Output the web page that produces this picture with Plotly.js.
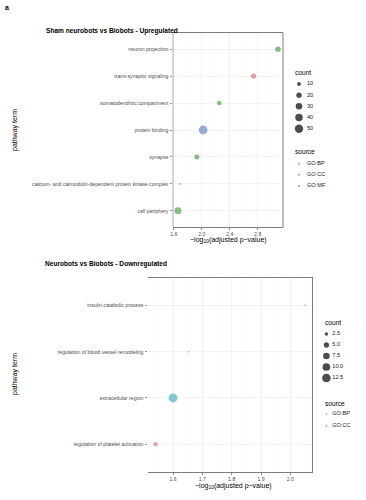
<!DOCTYPE html>
<html>
<head>
<meta charset="utf-8">
<script src="https://cdn.plot.ly/plotly-3.0.1.min.js"></script>
<style>html,body{margin:0;padding:0;background:#fff;}#chart{width:366px;height:500px;}</style>
</head>
<body>
<div id="chart"></div>
<script>
// ---------- data (bottom category first, as ggplot orders them) ----------
const upTerms = ["cell periphery",
  "calcium- and calmodulin-dependent protein kinase complex",
  "synapse", "protein binding", "somatodendritic compartment",
  "trans-synaptic signaling", "neuron projection"];
const upScore  = [1.66, 1.69, 1.93, 2.02, 2.25, 2.74, 3.09];
const upCount  = [35, 2, 18, 55, 16, 20, 22];
const upSource = ["GO:CC", "GO:CC", "GO:CC", "GO:MF", "GO:CC", "GO:BP", "GO:CC"];

const downTerms = ["regulation of platelet activation", "extracellular region",
  "regulation of blood vessel remodeling", "insulin catabolic process"];
const downScore  = [1.54, 1.60, 1.653, 2.05];
const downCount  = [4, 13, 1, 1];
const downSource = ["GO:BP", "GO:CC", "GO:BP", "GO:BP"];

const upSizeBreaks   = [10, 20, 30, 40, 50];
const downSizeBreaks = [2.5, 5.0, 7.5, 10.0, 12.5];
const upSources   = ["GO:BP", "GO:CC", "GO:MF"];
const downSources = ["GO:BP", "GO:CC"];

// ---------- styling ----------
const W = 366, H = 500;
const FONT = "Liberation Sans, Arial, sans-serif";
const upColors   = {"GO:BP": "#D9737A", "GO:CC": "#55A055", "GO:MF": "#6E8BC2"};
const downColors = {"GO:BP": "#D98A8F", "GO:CC": "#4FB3BA"};
const px = v => v / W, py = v => 1 - v / H;

function sizeFn(lo, hi) {            // ggplot-like area scale
  const d0 = 1.8, d1 = 8.8;
  return c => Math.sqrt(d0 * d0 + Math.max(0, (c - lo) / (hi - lo)) * (d1 * d1 - d0 * d0));
}
const upSize = sizeFn(Math.min(...upCount), Math.max(...upCount));
const downSize = sizeFn(Math.min(...downCount), Math.max(...downCount));
function expand(v) { const lo = Math.min(...v), hi = Math.max(...v), e = (hi - lo) * 0.05; return [lo - e, hi + e]; }

const traces = [];
function panelTraces(terms, score, count, source, colors, sf, xa, ya) {
  Object.keys(colors).forEach(s => {
    const idx = source.map((v, i) => v === s ? i : -1).filter(i => i >= 0);
    if (!idx.length) return;
    traces.push({
      type: "scatter", mode: "markers", xaxis: xa, yaxis: ya, showlegend: false,
      x: idx.map(i => score[i]), y: idx.map(i => terms[i]),
      marker: {color: colors[s], size: idx.map(i => sf(count[i])), line: {width: 0}},
      hoverinfo: "x+y"
    });
  });
}
panelTraces(upTerms, upScore, upCount, upSource, upColors, upSize, "x", "y");
panelTraces(downTerms, downScore, downCount, downSource, downColors, downSize, "x2", "y2");

// legend keys drawn on hidden helper axes
const KEY_X = 6, LAB_X = 14;
function legendTraces(breaks, labels, sizes, colors, xa, ya) {
  traces.push({type: "scatter", mode: "markers", xaxis: xa, yaxis: ya, showlegend: false, hoverinfo: "skip",
    x: breaks.map(() => KEY_X), y: labels, marker: {color: colors, size: sizes, line: {width: 0}}});
  traces.push({type: "scatter", mode: "text", xaxis: xa, yaxis: ya, showlegend: false, hoverinfo: "skip",
    x: breaks.map(() => LAB_X), y: labels, text: labels, textposition: "middle right",
    textfont: {family: FONT, size: 5.6, color: "#1a1a1a"}});
}
const upBreakLab = upSizeBreaks.map(String);
const downBreakLab = downSizeBreaks.map(v => v.toFixed(1));
legendTraces(upSizeBreaks, upBreakLab, upSizeBreaks.map(upSize), "#000", "x3", "y3");
legendTraces(upSources, upSources, upSources.map(() => 2.2), upSources.map(s => upColors[s]), "x3", "y4");
legendTraces(downSizeBreaks, downBreakLab, downSizeBreaks.map(downSize), "#000", "x4", "y5");
legendTraces(downSources, downSources, downSources.map(() => 2.2), downSources.map(s => downColors[s]), "x4", "y6");

const tickFont = {family: FONT, size: 5.2, color: "#4D4D4D"};
function xAxis(domain, anchor, range, dtick) {
  return {domain, anchor, range, dtick, tick0: 0, tickformat: ".1f",
    showgrid: true, gridcolor: "#EBEBEB", gridwidth: 0.6,
    minor: {dtick: dtick / 2, showgrid: true, gridcolor: "#F5F5F5", gridwidth: 0.4},
    zeroline: false, showline: true, mirror: true, linecolor: "#444", linewidth: 0.7,
    ticks: "outside", ticklen: 2.5, tickwidth: 0.6, tickcolor: "#444", tickfont: tickFont, fixedrange: true};
}
function yAxis(domain, anchor, cats) {
  return {domain, anchor, type: "category", categoryorder: "array", categoryarray: cats,
    range: [-0.6, cats.length - 0.4], showgrid: true, gridcolor: "#EBEBEB", gridwidth: 0.6,
    zeroline: false, showline: false, ticks: "outside", ticklen: 2.5, tickwidth: 0.6, tickcolor: "#444",
    tickfont: tickFont, fixedrange: true};
}
function hidX(domain, anchor) { return {domain, anchor, range: [0, 60], visible: false, fixedrange: true}; }
function hidY(domain, anchor, cats) {
  return {domain, anchor, type: "category", categoryorder: "array", categoryarray: cats,
    range: [cats.length - 0.5, -0.5], visible: false, fixedrange: true};
}
const vline = (xa, ya, at, color) => ({type: "line", xref: xa + " domain", yref: ya + " domain",
  x0: at, x1: at, y0: 0, y1: 1, line: {color: color, width: 0.7}, layer: "above"});

const ann = (text, x, y, o) => Object.assign({text, x: px(x), y: py(y), xref: "paper", yref: "paper",
  showarrow: false, xanchor: "center", yanchor: "middle", font: {family: FONT, size: 7, color: "#000"}}, o || {});
const xTitle = "\u2212log<sub>10</sub>(adjusted p\u2212value)";

const layout = {
  width: W, height: H, margin: {l: 0, r: 0, t: 0, b: 0},
  paper_bgcolor: "#fff", plot_bgcolor: "#fff", showlegend: false,
  xaxis: xAxis([px(173), px(283)], "y", expand(upScore), 0.4),
  yaxis: yAxis([py(227), py(33)], "x", upTerms),
  xaxis2: xAxis([px(148), px(312.5)], "y2", expand(downScore), 0.1),
  yaxis2: yAxis([py(472), py(277.7)], "x2", downTerms),
  xaxis3: hidX([px(293), px(353)], "y3"),
  yaxis3: hidY([py(134.3), py(78.4)], "x3", upBreakLab),
  yaxis4: hidY([py(191.6), py(158.1)], "x3", upSources),
  xaxis4: hidX([px(322), px(366)], "y5"),
  yaxis5: hidY([py(383.5), py(328.5)], "x4", downBreakLab),
  yaxis6: hidY([py(432), py(408)], "x4", downSources),
  shapes: [vline("x", "y", 1, "#444"), vline("x", "y", 0, "#888"), vline("x2", "y2", 1, "#444")],
  annotations: [
    ann("<b>a</b>", 7, 7.5, {font: {family: FONT, size: 7, color: "#000"}}),
    ann("<b>Sham neurobots vs Biobots - Upregulated</b>", 44, 31, {xanchor: "left", font: {family: FONT, size: 6.6, color: "#000"}}),
    ann("<b>Neurobots vs Biobots - Downregulated</b>", 43, 264, {xanchor: "left", font: {family: FONT, size: 6.6, color: "#000"}}),
    ann("pathway term", 15, 130, {textangle: -90}),
    ann("pathway term", 15, 374, {textangle: -90}),
    ann(xTitle, 228, 240),
    ann(xTitle, 233, 486),
    ann("count", 293, 72, {xanchor: "left", font: {family: FONT, size: 6.6, color: "#000"}}),
    ann("source", 293, 151, {xanchor: "left", font: {family: FONT, size: 6.6, color: "#000"}}),
    ann("count", 323, 322, {xanchor: "left", font: {family: FONT, size: 6.6, color: "#000"}}),
    ann("source", 323, 403, {xanchor: "left", font: {family: FONT, size: 6.6, color: "#000"}})
  ]
};
Plotly.newPlot("chart", traces, layout, {staticPlot: true, displayModeBar: false});
</script>
</body>
</html>
